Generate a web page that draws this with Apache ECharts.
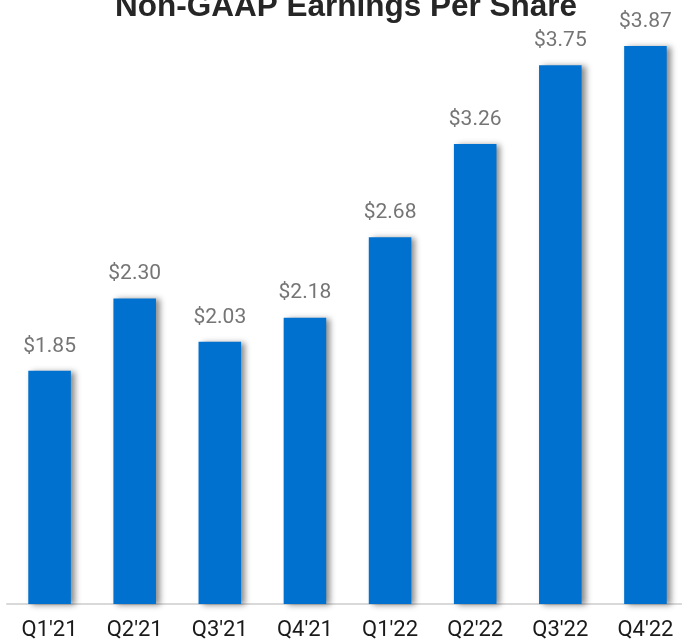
<!DOCTYPE html>
<html>
<head>
<meta charset="utf-8">
<script src="https://cdn.jsdelivr.net/npm/echarts@6/dist/echarts.min.js"></script>
<style>
  html, body { margin: 0; padding: 0; background: #fff; }
  #chart { width: 682px; height: 641px; }
</style>
</head>
<body>
<div id="chart"></div>
<script>
var quarters = ["Q1'21", "Q2'21", "Q3'21", "Q4'21", "Q1'22", "Q2'22", "Q3'22", "Q4'22"];
var eps = [1.85, 2.30, 2.03, 2.18, 2.68, 3.26, 3.75, 3.87];

var chartDom = document.getElementById('chart');
var myChart = echarts.init(chartDom);
var option;

option = {
  animation: false,
  graphic: [{
    type: 'text',
    x: 346,
    y: -9,
    style: {
      text: 'Non-GAAP Earnings Per Share',
      font: 'bold 31.5px "Liberation Sans", Arial, sans-serif',
      fill: '#262626',
      align: 'center',
      verticalAlign: 'top'
    }
  }],
  grid: {
    left: 7,
    right: -6,
    top: 25,
    bottom: 37,
    outerBoundsMode: 'none'
  },
  xAxis: {
    type: 'category',
    data: quarters,
    axisLine: {
      lineStyle: { color: '#d9d9d9', width: 2 }
    },
    axisTick: { show: false },
    axisLabel: {
      margin: 15,
      color: '#1a1a1a',
      fontFamily: 'Roboto, sans-serif',
      fontSize: 22
    }
  },
  yAxis: {
    type: 'value',
    min: 0.4,
    max: 4.0,
    show: false,
    splitLine: { show: false }
  },
  series: [{
    type: 'bar',
    data: eps,
    barWidth: '50%',
    itemStyle: {
      color: '#0071ce',
      shadowColor: 'rgba(0, 0, 0, 0.45)',
      shadowBlur: 6,
      shadowOffsetX: 4,
      shadowOffsetY: 1
    },
    label: {
      show: true,
      position: 'top',
      distance: 14,
      color: '#757575',
      fontFamily: 'Roboto, sans-serif',
      fontSize: 21,
      formatter: function (p) {
        return '$' + p.value.toFixed(2);
      }
    }
  }]
};

option && myChart.setOption(option);
</script>
</body>
</html>
